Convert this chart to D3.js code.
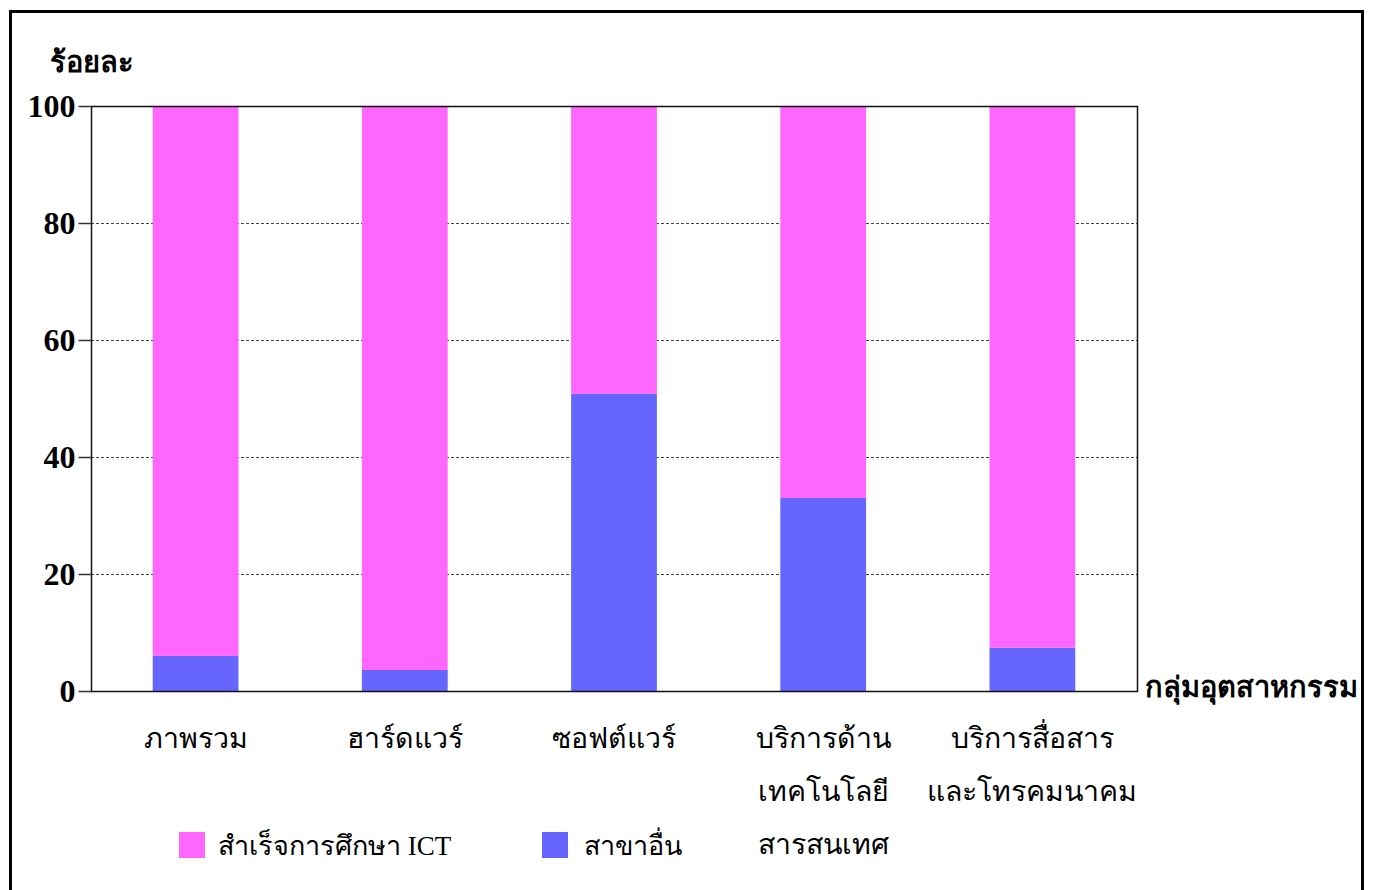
<!DOCTYPE html>
<html>
<head>
<meta charset="utf-8">
<script src="https://cdn.jsdelivr.net/npm/d3@7"></script>
<style>
  body { margin: 0; background: #fff; }
  svg { display: block; }
</style>
</head>
<body>
<div id="chart"></div>
<script>

// Categories (each label split into lines)
const categories = ['ภาพรวม', 'ฮาร์ดแวร์', 'ซอฟต์แวร์', 'บริการด้าน|เทคโนโลยี|สารสนเทศ', 'บริการสื่อสาร|และโทรคมนาคม']
// share with ICT degree, share from other fields
const ictValues = [94.0, 96.4, 49.2, 67.0, 92.6]
const otherValues = [6.0, 3.6, 50.8, 33.0, 7.4]
const seriesNames = ['สำเร็จการศึกษา ICT', 'สาขาอื่น']
const yTicks = [0, 20, 40, 60, 80, 100]

function drawChart(target_id) {

    const width = 1375, height = 890
    const margin = {left: 91, right: 238, top: 106, bottom: 199}
    const colors = ['#FF66FF', '#6666FF']
    const font = '"Liberation Serif", "Times New Roman", serif'

    var svg = d3.select(target_id)
        .append("svg")
        .attr("width", width)
        .attr("height", height)
        .style("font-family", font)

    // outer frame (bottom edge runs off the picture)
    svg.append("rect")
        .attr("x", 10.5).attr("y", 11.5)
        .attr("width", 1352).attr("height", 900)
        .attr("fill", "none")
        .attr("stroke", "#000")
        .attr("stroke-width", 3)

    const x = d3.scaleBand()
        .domain(categories)
        .range([margin.left, width - margin.right])
        .paddingInner(0.59)
        .paddingOuter(0.295)

    const y = d3.scaleLinear()
        .domain([0, 100])
        .range([height - margin.bottom, margin.top])

    // dashed gridlines
    svg.append("g")
        .selectAll("line")
        .data(yTicks.filter(d => d > 0 && d < 100))
        .enter()
        .append("line")
        .attr("x1", margin.left).attr("x2", width - margin.right)
        .attr("y1", d => y(d) + 0.5).attr("y2", d => y(d) + 0.5)
        .attr("stroke", "#444")
        .attr("stroke-dasharray", "3,2")

    // stacked bars
    const rows = categories.map((c, i) => ({cat: c, ict: ictValues[i], other: otherValues[i]}))
    const stack = d3.stack().keys(['other', 'ict'])(rows)

    svg.append("g")
        .selectAll("g")
        .data(stack)
        .enter()
        .append("g")
        .attr("fill", (d, i) => colors[1 - i])
        .selectAll("rect")
        .data(d => d)
        .enter()
        .append("rect")
        .attr("x", d => x(d.data.cat))
        .attr("width", x.bandwidth())
        .attr("y", d => y(d[1]))
        .attr("height", d => y(d[0]) - y(d[1]))

    // plot frame
    svg.append("rect")
        .attr("x", margin.left + 0.5).attr("y", margin.top + 0.5)
        .attr("width", width - margin.left - margin.right)
        .attr("height", height - margin.top - margin.bottom)
        .attr("fill", "none")
        .attr("stroke", "#111")
        .attr("stroke-width", 1.5)

    // y axis
    const yAxis = svg.append("g")
        .attr("transform", `translate(${margin.left + 0.5},0)`)
        .call(d3.axisLeft(y).tickValues(yTicks).tickSize(13).tickPadding(3))
    yAxis.select(".domain").remove()
    yAxis.selectAll(".tick line").attr("stroke", "#333").attr("stroke-width", 1.5)
    yAxis.selectAll(".tick text")
        .style("font-family", font)
        .style("font-size", "32px")
        .style("font-weight", "bold")
        .attr("fill", "#000")

    // category labels
    const labels = svg.append("g")
        .selectAll("text")
        .data(categories)
        .enter()
        .append("text")
        .attr("x", d => x(d) + x.bandwidth() / 2)
        .attr("y", 748)
        .attr("text-anchor", "middle")
        .style("font-size", "28.5px")
    labels.selectAll("tspan")
        .data(d => d.split("|"))
        .enter()
        .append("tspan")
        .attr("x", function() { return d3.select(this.parentNode).attr("x") })
        .attr("dy", (d, i) => i === 0 ? 0 : 53)
        .text(d => d)

    // axis titles
    svg.append("text")
        .attr("x", 50).attr("y", 72)
        .style("font-size", "29px").style("font-weight", "bold")
        .text("ร้อยละ")
    svg.append("text")
        .attr("x", 1145).attr("y", 697)
        .style("font-size", "29px").style("font-weight", "bold")
        .text("กลุ่มอุตสาหกรรม")

    // legend
    const legendX = [179, 542]
    const legend = svg.append("g")
        .selectAll("g")
        .data(seriesNames)
        .enter()
        .append("g")
        .attr("transform", (d, i) => `translate(${legendX[i]},832)`)
    legend.append("rect")
        .attr("width", 26).attr("height", 26)
        .attr("fill", (d, i) => colors[i])
    legend.append("text")
        .attr("x", (d, i) => i === 0 ? 39 : 42)
        .attr("y", 23)
        .style("font-size", "27px")
        .text(d => d)
}

drawChart("#chart")
</script>
</body>
</html>
